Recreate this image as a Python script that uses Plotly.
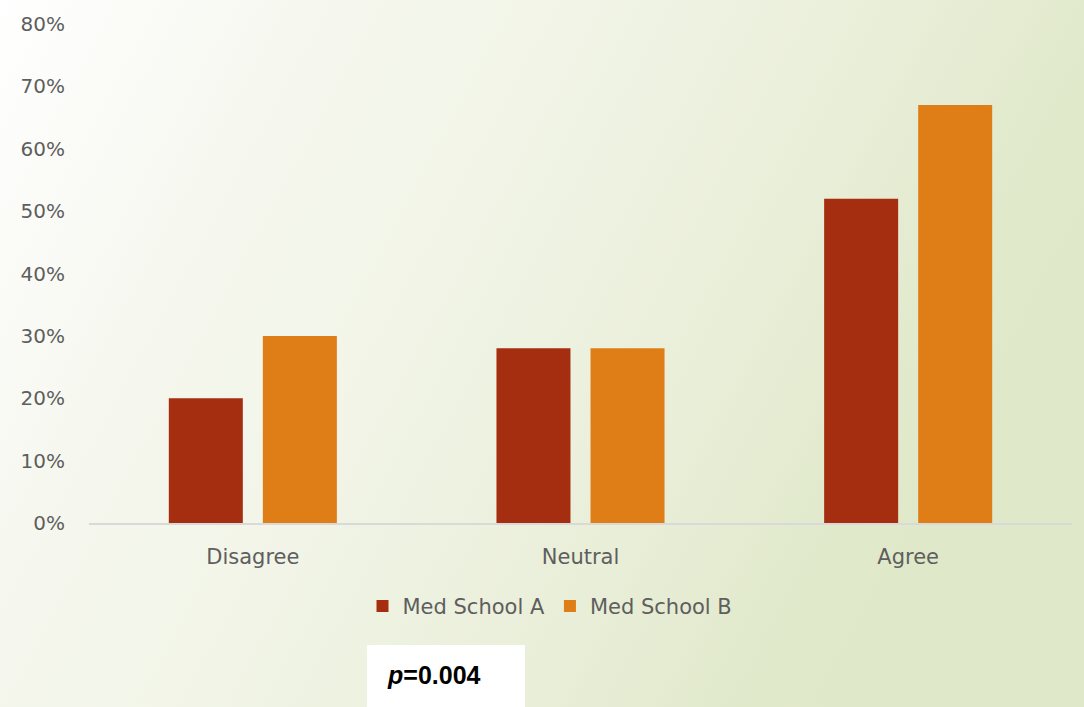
import base64
import plotly.graph_objects as go

categories = ["Disagree", "Neutral", "Agree"]
school_a = [0.20, 0.28, 0.52]
school_b = [0.30, 0.28, 0.67]
series_names = ["Med School A", "Med School B"]
y_ticks = [0, 0.1, 0.2, 0.3, 0.4, 0.5, 0.6, 0.7, 0.8]
p_text = "<i>p</i>=0.004"

W, H = 1084, 707
ML, MR, MT, MB = 89, 12, 20, 184
PW, PH = W - ML - MR, H - MT - MB

svg = f'''<svg xmlns="http://www.w3.org/2000/svg" width="{W}" height="{H}" viewBox="0 0 {W} {H}" preserveAspectRatio="none">
<defs><linearGradient id="g" x1="0" y1="0" x2="1" y2="0.35">
<stop offset="0" stop-color="#ffffff"/>
<stop offset="0.28" stop-color="#f5f7ee"/>
<stop offset="0.45" stop-color="#f2f5e8"/>
<stop offset="0.75" stop-color="#e9eed8"/>
<stop offset="0.89" stop-color="#e2eacd"/>
<stop offset="1" stop-color="#dfe8c8"/>
</linearGradient></defs>
<rect x="0" y="0" width="{W}" height="{H}" fill="url(#g)"/></svg>'''
bg_src = "data:image/svg+xml;base64," + base64.b64encode(svg.encode()).decode()

GRAY = "#5e5e5e"
FONT = "DejaVu Sans"

fig = go.Figure()
fig.add_trace(go.Bar(x=categories, y=school_a, name=series_names[0],
                     marker=dict(color="#a42e0f", line=dict(width=0))))
fig.add_trace(go.Bar(x=categories, y=school_b, name=series_names[1],
                     marker=dict(color="#df7e17", line=dict(width=0))))

fig.update_layout(
    width=W, height=H,
    margin=dict(l=ML, r=MR, t=MT, b=MB, pad=0),
    paper_bgcolor="#ffffff",
    plot_bgcolor="rgba(0,0,0,0)",
    barmode="group",
    bargap=0.426,
    bargroupgap=0.213,
    font=dict(family=FONT, color=GRAY, size=20),
    showlegend=True,
    legend=dict(orientation="h", x=(550 - ML) / PW, xanchor="center",
                y=-(607 - (H - MB)) / PH, yanchor="middle",
                font=dict(family=FONT, size=21, color=GRAY),
                bgcolor="rgba(0,0,0,0)", traceorder="normal"),
    xaxis=dict(showline=True, linecolor="#d9d9d9", linewidth=2,
               showgrid=False, zeroline=False,
               ticks="outside", ticklen=14, tickcolor="rgba(0,0,0,0)",
               tickfont=dict(family=FONT, size=21, color=GRAY)),
    yaxis=dict(range=[0, 0.8], tickvals=y_ticks, tickformat=".0%",
               showgrid=False, zeroline=False, showline=False,
               ticks="outside", ticklen=19, tickcolor="rgba(0,0,0,0)",
               tickfont=dict(family=FONT, size=20, color=GRAY)),
    images=[dict(source=bg_src, xref="paper", yref="paper",
                 x=-(ML + 5) / PW, y=1 + (MT + 5) / PH,
                 sizex=(W + 10) / PW, sizey=(H + 10) / PH,
                 xanchor="left", yanchor="top", sizing="stretch",
                 layer="below", opacity=1)],
    shapes=[dict(type="rect", xref="paper", yref="paper",
                 x0=(367 - ML) / PW, x1=(525 - ML) / PW,
                 y0=-(H + 2 - (H - MB)) / PH, y1=-(646 - (H - MB)) / PH,
                 fillcolor="#ffffff", line=dict(width=0), layer="above")],
    annotations=[dict(text="<b>" + p_text + "</b>", xref="paper", yref="paper",
                      x=(385 - ML) / PW, xanchor="left",
                      y=-(676 - (H - MB)) / PH, yanchor="middle",
                      showarrow=False,
                      font=dict(family="Liberation Sans", size=25, color="#000000"))],
)

fig.write_html("out.html")
